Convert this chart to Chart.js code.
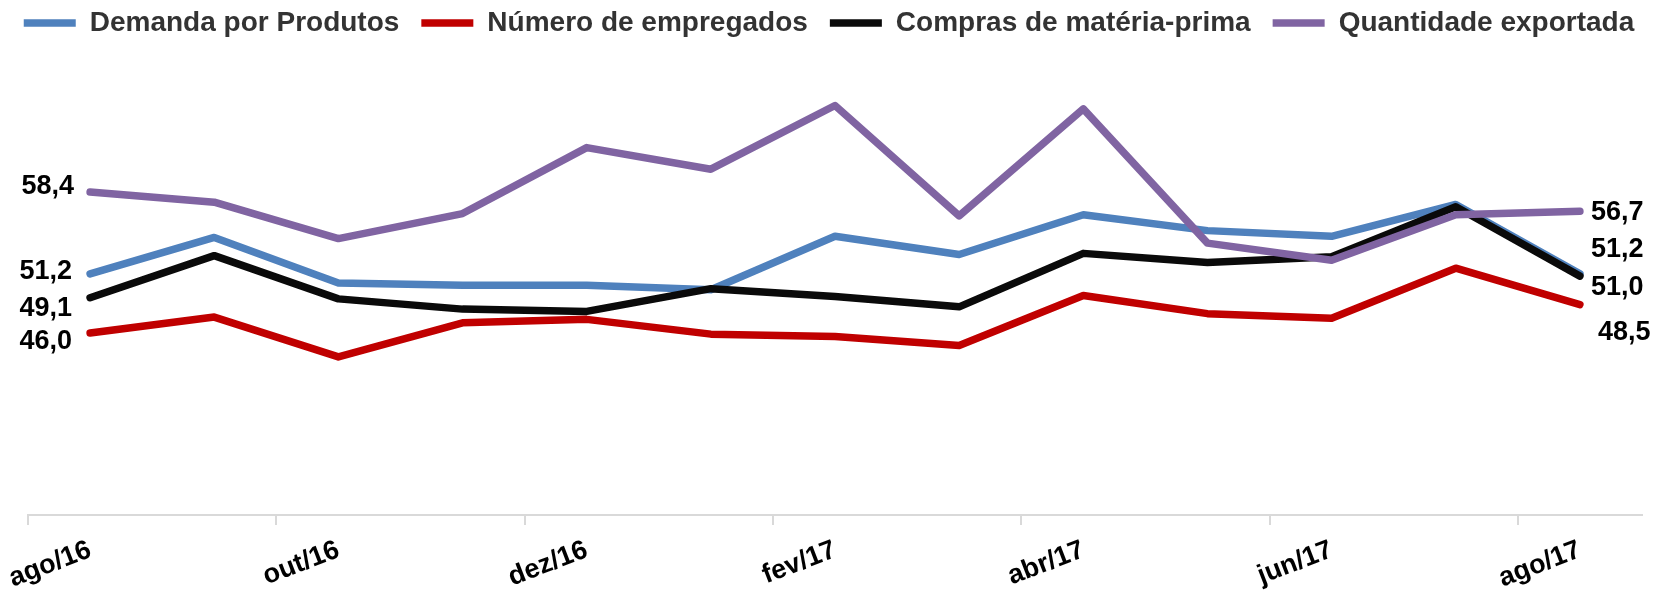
<!DOCTYPE html>
<html>
<head>
<meta charset="utf-8">
<script src="https://cdn.jsdelivr.net/npm/chart.js@4/dist/chart.umd.min.js"></script>
<style>
  html, body { margin: 0; padding: 0; background: #fff; }
  #wrap { width: 1658px; height: 593px; }
</style>
</head>
<body>
<div id="wrap"><canvas id="myChart" width="1658" height="593"></canvas></div>
<script>
const meses = ['ago/16', 'set/16', 'out/16', 'nov/16', 'dez/16', 'jan/17', 'fev/17',
  'mar/17', 'abr/17', 'mai/17', 'jun/17', 'jul/17', 'ago/17'];

const demanda = [51.2, 54.4, 50.4, 50.2, 50.2, 49.8, 54.5, 52.9, 56.4, 55.0, 54.5, 57.3, 51.2];
const empregados = [46.0, 47.4, 43.9, 46.9, 47.2, 45.9, 45.7, 44.9, 49.3, 47.7, 47.3, 51.7, 48.5];
const compras = [49.1, 52.8, 49.0, 48.1, 47.9, 49.9, 49.2, 48.3, 53.0, 52.2, 52.7, 57.1, 51.0];
const exportada = [58.4, 57.5, 54.3, 56.5, 62.3, 60.4, 66.0, 56.3, 65.7, 53.9, 52.4, 56.4, 56.7];

// where the first / last value labels sit relative to their point (dx, dy)
const firstOffsets = [[-18, -2], [-18, 9], [-18, 11], [-16, -5]];
const lastOffsets = [[11, -24], [18, 28], [11, 11], [11, 1]];

const fonte = '"Liberation Sans", Arial, sans-serif';

function serie(label, values, color, order) {
  return {
    label: label,
    data: values,
    borderColor: color,
    backgroundColor: color,
    borderWidth: 7.5,
    borderCapStyle: 'round',
    borderJoinStyle: 'round',
    pointRadius: 0,
    pointHoverRadius: 0,
    tension: 0,
    order: order
  };
}

// empty side axes, only used to hold the plot margins
function margem(pos, w) {
  return {
    position: pos,
    display: true,
    grid: { display: false },
    border: { display: false },
    ticks: { display: false },
    afterFit: s => { s.width = w; }
  };
}

// a bit more room under the legend
const legendGap = {
  id: 'legendGap',
  beforeInit(chart) {
    const fit = chart.legend.fit;
    chart.legend.fit = function () {
      fit.bind(chart.legend)();
      this.height += 13;
    };
  }
};

const endLabels = {
  id: 'endLabels',
  afterDatasetsDraw(chart) {
    const ctx = chart.ctx;
    ctx.save();
    ctx.font = 'bold 27px ' + fonte;
    ctx.fillStyle = '#000';
    ctx.textBaseline = 'middle';
    chart.data.datasets.forEach((ds, i) => {
      const pts = chart.getDatasetMeta(i).data;
      const fmt = v => v.toFixed(1).replace('.', ',');
      const p0 = pts[0], pn = pts[pts.length - 1];
      ctx.textAlign = 'right';
      ctx.fillText(fmt(ds.data[0]), p0.x + firstOffsets[i][0], p0.y + firstOffsets[i][1]);
      ctx.textAlign = 'left';
      ctx.fillText(fmt(ds.data[ds.data.length - 1]), pn.x + lastOffsets[i][0], pn.y + lastOffsets[i][1]);
    });
    ctx.restore();
  }
};

var myChart = new Chart(document.getElementById('myChart'), {
  type: 'line',
  data: {
    labels: meses,
    datasets: [
      serie('Demanda por Produtos', demanda, '#4F81BD', 4),
      serie('Número de empregados', empregados, '#C00000', 3),
      serie('Compras de matéria-prima', compras, '#0A0A0A', 2),
      serie('Quantidade exportada', exportada, '#8064A2', 1)
    ]
  },
  options: {
    responsive: false,
    animation: false,
    layout: { padding: { top: -13, left: 0, right: 0, bottom: 0 } },
    plugins: {
      legend: {
        position: 'top',
        labels: {
          usePointStyle: true,
          pointStyle: 'line',
          pointStyleWidth: 52,
          padding: 22,
          color: '#333',
          font: { family: fonte, size: 28, weight: 'bold' },
          sort: (a, b) => a.datasetIndex - b.datasetIndex
        }
      },
      tooltip: { enabled: false }
    },
    scales: {
      x: {
        offset: true,
        afterFit: s => { s.height = 78; },
        grid: {
          offset: true,
          drawOnChartArea: false,
          drawTicks: true,
          tickLength: 10,
          lineWidth: 2,
          color: c => (c.index !== undefined && c.index % 2 === 0) ? '#D9D9D9' : 'rgba(0,0,0,0)'
        },
        border: { display: true, color: '#D9D9D9', width: 2 },
        ticks: {
          autoSkip: false,
          maxRotation: 21,
          minRotation: 21,
          padding: 9,
          color: '#000',
          font: { family: fonte, size: 27, weight: 'bold' },
          callback: function (v, i) { return i % 2 === 0 ? this.getLabelForValue(v) : ''; }
        }
      },
      y: Object.assign(margem('left', 28), { min: 30, max: 70 }),
      yr: margem('right', 16)
    }
  },
  plugins: [legendGap, endLabels]
});
</script>
</body>
</html>
